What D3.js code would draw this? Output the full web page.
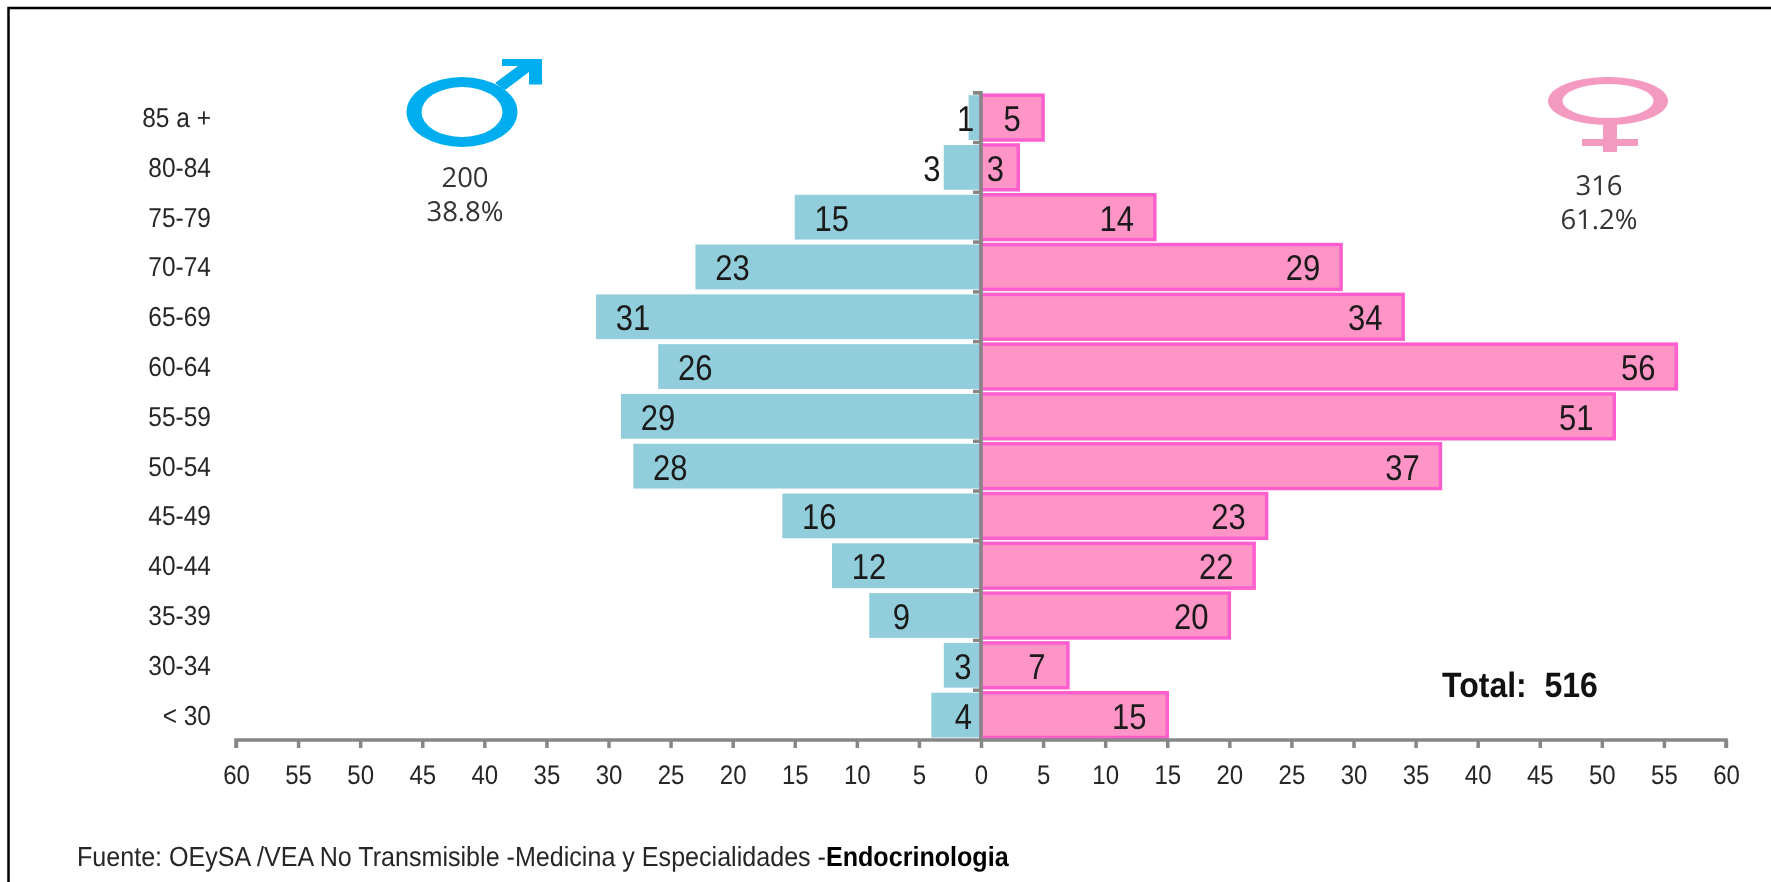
<!DOCTYPE html>
<html><head><meta charset="utf-8">
<script src="https://cdnjs.cloudflare.com/ajax/libs/d3/7.8.5/d3.min.js"></script>
<style>html,body{margin:0;padding:0;background:#fff}svg{display:block;filter:blur(0.6px);text-rendering:geometricPrecision}</style>
</head><body><div id="c"></div>
<script>
const ageGroups=["85 a +","80-84","75-79","70-74","65-69","60-64","55-59","50-54","45-49","40-44","35-39","30-34","< 30"];
const maleValues=[1,3,15,23,31,26,29,28,16,12,9,3,4];
const femaleValues=[5,3,14,29,34,56,51,37,23,22,20,7,15];
const axisTicks=d3.range(-60,61,5);
const maleSummary=["200","38.8%"];
const femaleSummary=["316","61.2%"];
const totalLabel="Total:  516";
const sourcePrefix="Fuente: OEySA /VEA No Transmisible -Medicina y Especialidades -";
const sourceBold="Endocrinologia";

const W=1771,H=882;
const FONT="'Liberation Sans',Arial,sans-serif";
const svg=d3.select("#c").append("svg").attr("width",W).attr("height",H);
svg.append("rect").attr("x",8.5).attr("y",8).attr("width",W+20).attr("height",H+20).attr("fill","#fff").attr("stroke","#000").attr("stroke-width",2.5);

const x=d3.scaleLinear().domain([-60,60]).range([236,1726]);
const y=d3.scaleBand().domain(ageGroups).range([92.7,740]).paddingInner(0.1).paddingOuter(0.05);

// bars
svg.append("g").selectAll("rect").data(maleValues).join("rect")
 .attr("x",d=>x(-d)).attr("y",(d,i)=>y(ageGroups[i])).attr("width",d=>x(0)-x(-d)).attr("height",y.bandwidth())
 .attr("fill","#92cddc");
svg.append("g").selectAll("rect").data(femaleValues).join("rect")
 .attr("x",x(0)).attr("y",(d,i)=>y(ageGroups[i])).attr("width",d=>x(d)-x(0)).attr("height",y.bandwidth())
 .attr("fill","#ff94c6").attr("stroke","#ff5fce").attr("stroke-width",3.5);

// axes
const xAxis=d3.axisBottom(x).tickValues(axisTicks).tickFormat(d=>Math.abs(d)).tickSize(8);
const gx=svg.append("g").attr("transform","translate(0,740)").call(xAxis);
gx.select(".domain").attr("stroke","#868686").attr("stroke-width",3.5).attr("d",`M${x(-60)},8V0H${x(60)}V8`);
gx.selectAll(".tick line").attr("stroke","#868686").attr("stroke-width",3.5);
gx.selectAll("text").attr("font-family",FONT).attr("font-size",24).attr("fill","#262626")
 .attr("y",null).attr("dy",null).attr("transform","translate(0,44) scale(1,1.12)");

const yAxis=d3.axisLeft(y).tickValues([]).tickSize(0);
const gy=svg.append("g").attr("transform",`translate(${x(0)},0)`).call(yAxis);
gy.select(".domain").attr("stroke","#868686").attr("stroke-width",3.5).attr("d","M-8,92.7H0V740");
gy.selectAll("line.sep").data(ageGroups).join("line").attr("class","sep")
 .attr("x1",-8).attr("x2",0)
 .attr("y1",d=>y(d)-y.step()*0.05).attr("y2",d=>y(d)-y.step()*0.05)
 .attr("stroke","#868686").attr("stroke-width",3.5);

// category labels
svg.append("g").selectAll("text").data(ageGroups).join("text")
 .attr("text-anchor","end")
 .attr("transform",d=>`translate(211,${y(d)+y.bandwidth()/2+9.5}) scale(1,1.12)`)
 .attr("font-family",FONT).attr("font-size",24.5).attr("fill","#262626").text(d=>d);

// value labels: distance (px) of label centre from the bar end, with per-row exceptions
const maleExceptions={0:-3,1:-12,11:19};
const femaleExceptions={1:23};
const maleOffset=(d,i)=>i in maleExceptions?maleExceptions[i]:(d>=10?37:32);
const femaleOffset=(d,i)=>i in femaleExceptions?femaleExceptions[i]:(d>=10?38:31);
const labelStyle=s=>s.attr("font-family",FONT).attr("font-size",31).attr("fill","#1a1a1a").attr("text-anchor","middle");
const labelY=i=>y(ageGroups[i])+y.bandwidth()/2+13.5;
svg.append("g").selectAll("text").data(maleValues).join("text").call(labelStyle)
 .attr("transform",(d,i)=>`translate(${x(-d)+maleOffset(d,i)},${labelY(i)}) scale(1,1.16)`).text(d=>d);
svg.append("g").selectAll("text").data(femaleValues).join("text").call(labelStyle)
 .attr("transform",(d,i)=>`translate(${x(d)-femaleOffset(d,i)},${labelY(i)}) scale(1,1.16)`).text(d=>d);

// sex symbols
const MALE="#00aeef",FEMALE="#f49ac1";
const male=svg.append("g");
male.append("ellipse").attr("cx",462).attr("cy",112).attr("rx",55.5).attr("ry",35).attr("fill",MALE);
male.append("ellipse").attr("cx",462).attr("cy",112).attr("rx",40.5).attr("ry",25).attr("fill","#fff");
male.append("path").attr("d","M502,59H542V84.5H529V72L505,90L495,83L518,66H502Z").attr("fill",MALE);
const fem=svg.append("g");
fem.append("ellipse").attr("cx",1608).attr("cy",101).attr("rx",60).attr("ry",24).attr("fill",FEMALE);
fem.append("ellipse").attr("cx",1608).attr("cy",101).attr("rx",45.5).attr("ry",17).attr("fill","#fff");
fem.append("rect").attr("x",1603).attr("y",124).attr("width",14).attr("height",28).attr("fill",FEMALE);
fem.append("rect").attr("x",1582).attr("y",139).attr("width",56).attr("height",7).attr("fill",FEMALE);

const sumFont="'Open Sans',sans-serif";
svg.append("g").selectAll("text").data(maleSummary).join("text").attr("x",465).attr("y",(d,i)=>187+i*34)
 .attr("text-anchor","middle").attr("font-family",sumFont).attr("font-size",27.5).attr("fill","#333").text(d=>d);
svg.append("g").selectAll("text").data(femaleSummary).join("text").attr("x",1599).attr("y",(d,i)=>195+i*33.5)
 .attr("text-anchor","middle").attr("font-family",sumFont).attr("font-size",27.5).attr("fill","#333").text(d=>d);

svg.append("text").attr("transform","translate(1442,697) scale(1,1.1)").attr("font-family",FONT).attr("font-weight","bold").attr("font-size",32).attr("fill","#111").style("white-space","pre").text(totalLabel);

const src=svg.append("text").attr("transform","translate(77,866) scale(1,1.1)").attr("font-family",FONT).attr("font-size",25.1).attr("fill","#262626");
src.append("tspan").text(sourcePrefix);
src.append("tspan").attr("font-weight","bold").attr("fill","#000").text(sourceBold);
</script></body></html>
